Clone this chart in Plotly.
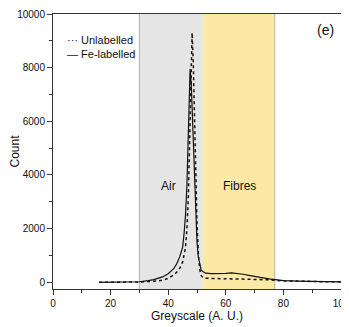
import plotly.graph_objects as go

# Fe-labelled (solid)
fe_x = [16, 20, 25, 30, 33, 35, 38, 40, 42, 43, 44, 45, 45.5, 46, 46.5, 47, 47.3, 47.6, 48, 48.5, 49, 49.5, 50, 50.5, 51, 51.5, 52, 53, 55, 58, 60, 62, 64, 66, 68, 70, 72, 75, 78, 80, 85, 90, 95, 100]
fe_y = [0, 0, 0, 20, 60, 100, 200, 320, 520, 700, 950, 1300, 1800, 2500, 3600, 5200, 6600, 7950, 7400, 6000, 4300, 2700, 1500, 900, 600, 450, 400, 340, 320, 310, 330, 350, 330, 300, 260, 210, 180, 130, 90, 60, 40, 25, 18, 15]

# Unlabelled (dotted)
un_x = [16, 20, 25, 30, 35, 38, 40, 42, 43, 44, 45, 46, 46.5, 47, 47.5, 48, 48.3, 48.7, 49, 49.5, 50, 50.5, 51, 51.5, 52, 53, 55, 60, 65, 70, 75, 80, 85, 90, 95, 100]
un_y = [0, 0, 0, 10, 40, 75, 150, 280, 380, 520, 750, 1300, 2000, 3200, 5500, 8400, 9300, 8200, 6500, 4200, 2200, 1000, 450, 250, 180, 150, 140, 130, 120, 110, 90, 55, 35, 25, 18, 15]

region_x = [30, 52, 77]  # Air: 30-52, Fibres: 52-77

x_ticks = [0, 20, 40, 60, 80, 100]
x_ticktext = ["0", "20", "40", "60", "80", "100"]
y_ticks = [0, 2000, 4000, 6000, 8000, 10000]
y_ticktext = ["0", "2000", "4000", "6000", "8000", "10000"]

fig = go.Figure()

fig.add_vrect(x0=region_x[0], x1=region_x[1], fillcolor="#e5e5e5", line_width=0, layer="below")
fig.add_vrect(x0=region_x[1], x1=region_x[2], fillcolor="#fde9a6", line_width=0, layer="below")
fig.add_vline(x=region_x[0], line_color="#b0b0b0", line_width=1, layer="below")
fig.add_vline(x=region_x[2], line_color="#b8b4a0", line_width=1, layer="below")

fig.add_trace(go.Scatter(x=un_x, y=un_y, mode="lines", name="Unlabelled",
                         line=dict(color="#111111", width=1.5, dash="dot")))
fig.add_trace(go.Scatter(x=fe_x, y=fe_y, mode="lines", name="Fe-labelled",
                         line=dict(color="#111111", width=1.2)))

font_fam = "Liberation Sans, Arial"

fig.add_annotation(x=40, y=3600, text="Air", showarrow=False, font=dict(size=12, color="#111", family=font_fam))
fig.add_annotation(x=64.6, y=3600, text="Fibres", showarrow=False, font=dict(size=12, color="#111", family=font_fam))
fig.add_annotation(x=94.5, y=9400, text="(e)", showarrow=False, font=dict(size=14, color="#111", family=font_fam))

# legend drawn as text
fig.add_annotation(xref="paper", yref="paper", x=0.04, y=0.905, xanchor="left", yanchor="middle",
                   text="··· Unlabelled", showarrow=False, font=dict(size=11, color="#111", family=font_fam))
fig.add_annotation(xref="paper", yref="paper", x=0.04, y=0.855, xanchor="left", yanchor="middle",
                   text="— Fe-labelled", showarrow=False, font=dict(size=11, color="#111", family=font_fam))

fig.update_layout(
    width=349, height=319,
    margin=dict(l=45, r=16, t=6, b=38),
    paper_bgcolor="white", plot_bgcolor="white",
    font=dict(family=font_fam, size=10, color="#111"),
    showlegend=False,
    xaxis=dict(range=[0, 100], tickmode="array", tickvals=x_ticks, ticktext=x_ticktext,
               ticks="outside", ticklen=5, ticklabeloverflow="allow",
               tickcolor="#333", showline=True, linecolor="#333", linewidth=1, mirror=True,
               showgrid=False, zeroline=False, automargin=True,
               minor=dict(tickvals=[10, 30, 50, 70, 90], ticks="outside", ticklen=3, tickcolor="#333"),
               title=dict(text="Greyscale (A. U.)", font=dict(size=12), standoff=2),
               tickfont=dict(size=10)),
    yaxis=dict(range=[-250, 10000], tickmode="array", tickvals=y_ticks, ticktext=y_ticktext,
               ticks="outside", ticklen=5, ticklabeloverflow="allow",
               tickcolor="#333", showline=True, linecolor="#333", linewidth=1, mirror=True,
               showgrid=False, zeroline=False, automargin=False,
               minor=dict(tickvals=[1000, 3000, 5000, 7000, 9000], ticks="outside", ticklen=3, tickcolor="#333"),
               title=dict(text="Count", font=dict(size=12), standoff=4),
               tickfont=dict(size=10)),
)

fig.write_html("out.html")
